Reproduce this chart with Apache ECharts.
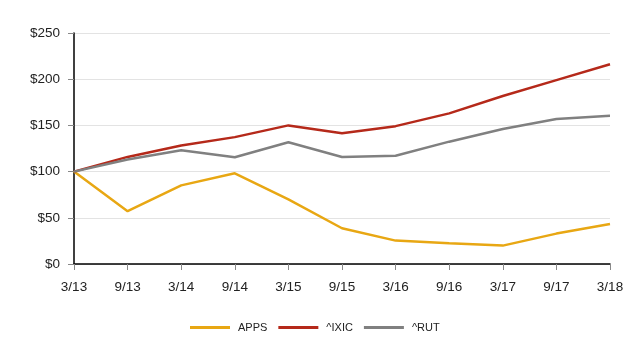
<!DOCTYPE html>
<html><head><meta charset="utf-8">
<script src="https://cdn.jsdelivr.net/npm/echarts@6/dist/echarts.min.js"></script>
<style>html,body{margin:0;padding:0;background:#fff}#c{width:644px;height:364px}</style>
</head><body><div id="c"></div>
<script>
const categories = ['3/13','9/13','3/14','9/14','3/15','9/15','3/16','9/16','3/17','9/17','3/18'];
const apps = [100, 57.2, 85.1, 98.2, 69.9, 38.7, 25.3, 22.4, 19.9, 32.9, 43.2];
const ixic = [100, 115.9, 128.3, 137.3, 150, 141.5, 149.2, 163, 181.8, 199, 216.1];
const rut  = [100, 113, 123.2, 115.5, 131.8, 115.8, 117.2, 132.4, 146.1, 157, 160.5];
const chart = echarts.init(document.getElementById('c'));
const font = 'Arial, Liberation Sans, sans-serif';
function s(name, data, color){
  return {name, type:'line', data, symbol:'none', lineStyle:{color, width:2.5}, itemStyle:{color}, animation:false};
}
chart.setOption({
  animation:false,
  grid:{left:74, right:34, top:33, bottom:100, containLabel:false},
  legend:{bottom:26, left:185, itemWidth:40, itemHeight:3, itemGap:11, icon:'rect',
    textStyle:{fontFamily:font, fontSize:11, color:'#222', padding:[0,0,0,3]},
    data:['APPS','^IXIC','^RUT']},
  xAxis:{type:'category', data:categories, boundaryGap:false,
    axisLine:{lineStyle:{color:'#000', width:1.5}},
    axisTick:{show:true, length:6, lineStyle:{color:'#888'}},
    axisLabel:{fontFamily:font, fontSize:13.5, color:'#222', margin:16}},
  yAxis:{type:'value', min:0, max:250, interval:50,
    axisLine:{show:true, lineStyle:{color:'#000', width:1.5}},
    axisTick:{show:true, length:6, lineStyle:{color:'#888'}},
    splitLine:{lineStyle:{color:'#e3e3e3'}},
    axisLabel:{fontFamily:font, fontSize:13.5, color:'#222', margin:14, formatter:v=>'$'+v}},
  series:[s('APPS', apps, '#E8A713'), s('^IXIC', ixic, '#B5291A'), s('^RUT', rut, '#808080')]
});
</script></body></html>
